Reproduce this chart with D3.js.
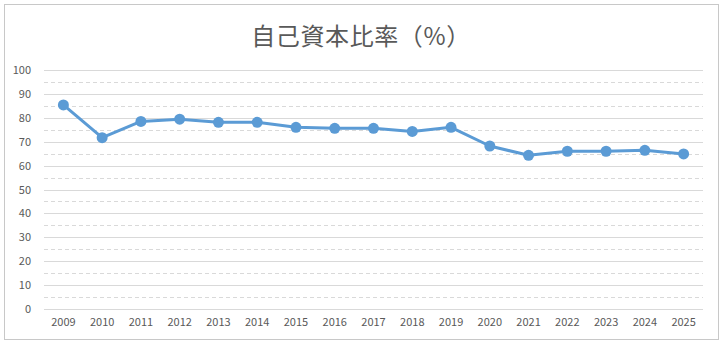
<!DOCTYPE html>
<html>
<head>
<meta charset="utf-8">
<script src="https://cdn.jsdelivr.net/npm/d3@7"></script>
<style>
  html, body { margin: 0; padding: 0; background: #fff; }
  svg { display: block; }
</style>
</head>
<body>
<svg id="chart" width="724" height="348"></svg>
<script>
// 自己資本比率の推移（%）
const years = ["2009","2010","2011","2012","2013","2014","2015","2016","2017","2018","2019","2020","2021","2022","2023","2024","2025"];
const ratios = [85.4, 71.7, 78.5, 79.4, 78.1, 78.1, 76.0, 75.6, 75.6, 74.3, 76.0, 68.2, 64.3, 66.0, 66.0, 66.4, 64.9];
const majorTicks = [0, 10, 20, 30, 40, 50, 60, 70, 80, 90, 100];
const minorTicks = [5, 15, 25, 35, 45, 55, 65, 75, 85, 95];
const title = "自己資本比率（%）";

const svg = d3.select("#chart");
const font = "'Noto Sans CJK JP', 'Noto Sans', sans-serif";
const textColor = "#595959";

// chart frame
svg.append("rect")
  .attr("x", 4.5).attr("y", 4.5)
  .attr("width", 714).attr("height", 335)
  .attr("fill", "#fff").attr("stroke", "#c8c8c8").attr("stroke-width", 1);

const plot = { left: 44, right: 703, top: 70, bottom: 309 };

const x = d3.scaleBand().domain(years).range([plot.left, plot.right]);
const y = d3.scaleLinear().domain([0, 100]).range([plot.bottom, plot.top]);

// minor gridlines (dashed)
svg.append("g")
  .selectAll("line").data(minorTicks).join("line")
  .attr("x1", plot.left).attr("x2", plot.right)
  .attr("y1", d => Math.round(y(d)) + 0.5).attr("y2", d => Math.round(y(d)) + 0.5)
  .attr("stroke", "#d9d9d9").attr("stroke-width", 1)
  .attr("stroke-dasharray", "4,3");

// major gridlines + value labels
const yAxis = d3.axisLeft(y).tickValues(majorTicks).tickSize(0).tickPadding(0);
const gy = svg.append("g").attr("transform", `translate(${plot.left},0)`).call(yAxis);
gy.select(".domain").remove();
gy.selectAll(".tick line").remove();
gy.selectAll(".tick text")
  .attr("x", -13)
  .attr("fill", textColor)
  .style("font-family", font).style("font-size", "11px");
svg.append("g")
  .selectAll("line").data(majorTicks).join("line")
  .attr("x1", plot.left).attr("x2", plot.right)
  .attr("y1", d => Math.round(y(d)) + 0.5).attr("y2", d => Math.round(y(d)) + 0.5)
  .attr("stroke", "#d9d9d9").attr("stroke-width", 1);

// category axis labels
const xAxis = d3.axisBottom(x).tickSize(0).tickPadding(9);
const gx = svg.append("g").attr("transform", `translate(0,${plot.bottom})`).call(xAxis);
gx.select(".domain").remove();
gx.selectAll(".tick text")
  .attr("fill", textColor)
  .style("font-family", font).style("font-size", "11px");

// series line
const cx = d => x(d) + x.bandwidth() / 2;
const line = d3.line()
  .x((d, i) => cx(years[i]))
  .y(d => y(d));
svg.append("path")
  .datum(ratios)
  .attr("d", line)
  .attr("fill", "none")
  .attr("stroke", "#5b9bd5")
  .attr("stroke-width", 3)
  .attr("stroke-linejoin", "round");

// markers
svg.append("g")
  .selectAll("circle").data(ratios).join("circle")
  .attr("cx", (d, i) => cx(years[i]))
  .attr("cy", d => y(d))
  .attr("r", 5.5)
  .attr("fill", "#5b9bd5");

// title
svg.append("text")
  .attr("x", 361).attr("y", 45)
  .attr("text-anchor", "middle")
  .attr("fill", textColor)
  .style("font-family", font).style("font-size", "24px")
  .style("letter-spacing", "0.6px")
  .text(title);
</script>
</body>
</html>
